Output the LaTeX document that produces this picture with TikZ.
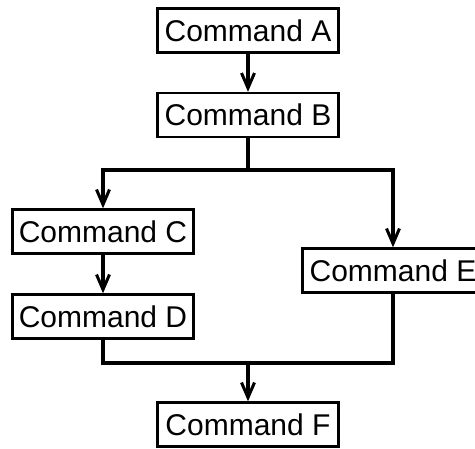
\documentclass[tikz,border=0pt]{standalone}
\usepackage{fontspec}
\setmainfont{Liberation Sans}
\usetikzlibrary{arrows.meta}
\begin{document}
\begin{tikzpicture}[x=1pt,y=-1pt,
  cmd/.style={draw,line width=2.4pt,minimum width=181pt,minimum height=44pt,inner sep=0pt,font=\fontsize{30}{33}\selectfont},
  conn/.style={line width=3.2pt},
  arr/.style={conn,-{Straight Barb[length=15pt,width=13pt,line width=3pt]}}]
\clip (0,0) rectangle (475,449);
\useasboundingbox (0,0) rectangle (475,449);
\node[cmd] (A) at (248,30.5) {Command A};
\node[cmd] (B) at (248,115) {Command B};
\node[cmd] (C) at (103,231.5) {Command C};
\node[cmd] (D) at (103,316.5) {Command D};
\node[cmd] (E) at (393,270.5) {Command E};
\node[cmd] (F) at (248,424.5) {Command F};
\coordinate (s) at (248,170);
\coordinate (m) at (248,363);
\draw[arr] (A) -- (B);
\draw[conn] (B) -- (s);
\draw[arr] (s) -| (C);
\draw[arr] (s) -| (E);
\draw[arr] (C) -- (D);
\draw[conn] (D) |- (m);
\draw[conn] (E) |- (m);
\draw[arr] (m) -- (F);
\end{tikzpicture}
\end{document}
